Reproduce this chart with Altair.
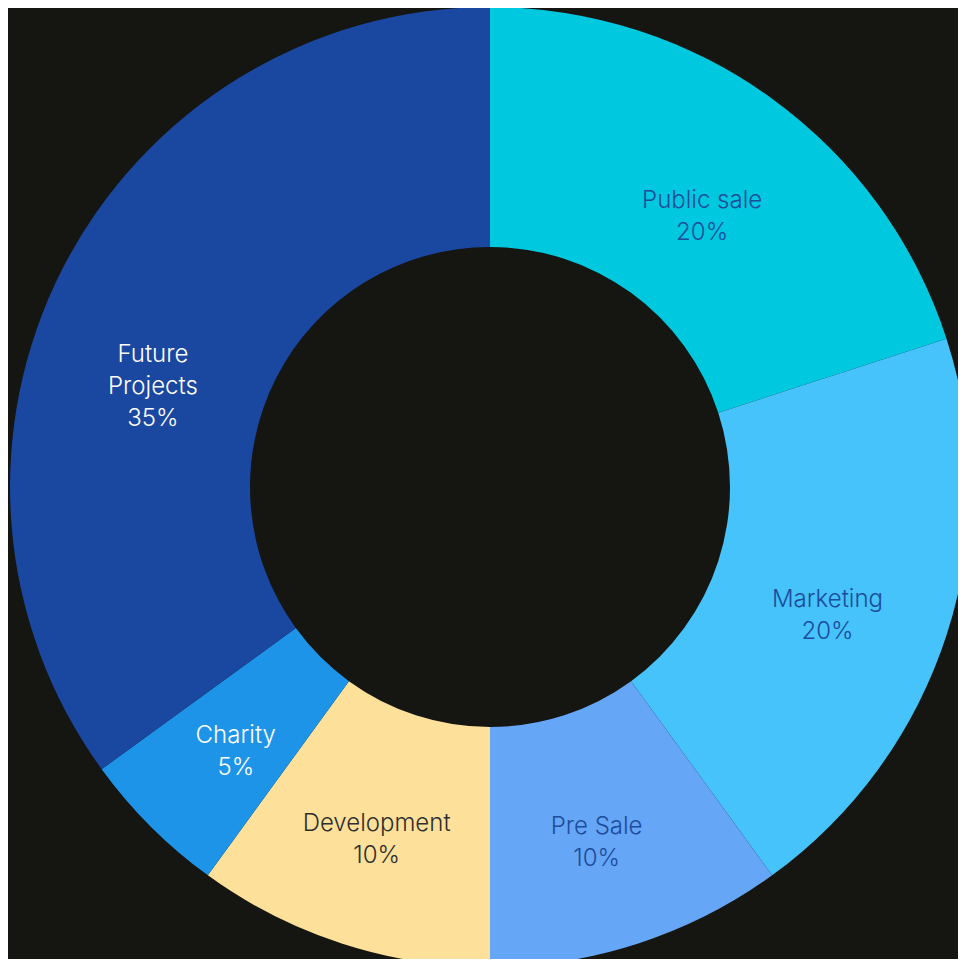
import altair as alt
import pandas as pd

categories = ["Public sale", "Marketing", "Pre Sale", "Development", "Charity", "Future Projects"]
label_lines = ["Public sale", "Marketing", "Pre Sale", "Development", "Charity", "Future\nProjects"]
shares = [20, 20, 10, 10, 5, 35]
slice_colors = ["#00C8DF", "#45C3FA", "#66A6F7", "#FDE19A", "#1E94E9", "#1A47A0"]
text_colors = ["#1D4C9A", "#1D4C9A", "#1D4C9A", "#2E2E2E", "#FFFFFF", "#FFFFFF"]

df = pd.DataFrame({
    "category": categories,
    "share": shares,
    "order": list(range(len(categories))),
    "label": [f"{l}\n{s}%" for l, s in zip(label_lines, shares)],
    "tcolor": text_colors,
})

base = alt.Chart(df).encode(
    theta=alt.Theta("share:Q", stack=True),
    order=alt.Order("order:Q"),
)

arcs = base.mark_arc(outerRadius=480, innerRadius=240, x=482, y=479).encode(
    color=alt.Color("category:N", scale=alt.Scale(domain=categories, range=slice_colors), legend=None)
)

text_props = dict(x=482, y=479, font="Inter", fontSize=24, fontWeight=300, lineHeight=32,
                  lineBreak="\n", baseline="middle", align="center")

is_future = alt.datum.category == "Future Projects"

text_main = base.mark_text(radius=356, thetaOffset=0.01, **text_props).encode(
    text="label:N",
    color=alt.Color("tcolor:N", scale=None),
    opacity=alt.condition(is_future, alt.value(0), alt.value(1)),
)

text_future = base.mark_text(radius=362, thetaOffset=-0.098, **text_props).encode(
    text="label:N",
    color=alt.Color("tcolor:N", scale=None),
    opacity=alt.condition(is_future, alt.value(1), alt.value(0)),
)

chart = alt.layer(arcs, text_main, text_future).properties(
    width=950, height=951, padding=0, autosize=alt.AutoSizeParams(type="none"),
    background="#151511",
).configure_view(stroke=None)

chart.save("out.html", embed_options={"renderer": "svg", "actions": False})
